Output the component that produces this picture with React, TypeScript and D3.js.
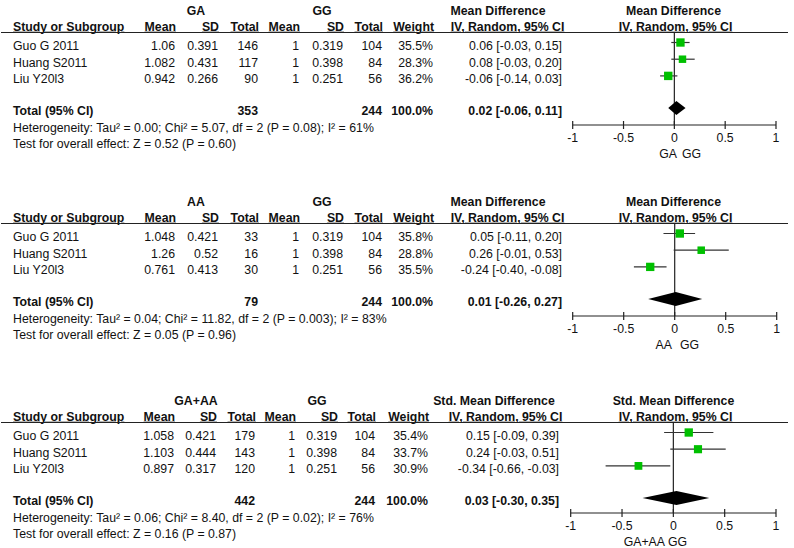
import React from "react";
import * as d3 from "d3";

// ---------- data ----------
const studies = ["Guo G 2011", "Huang S2011", "Liu Y20l3"];
const expLabels = ["GA", "AA", "GA+AA"];
const ctrlLabel = "GG";
const effectLabels = ["Mean Difference", "Mean Difference", "Std. Mean Difference"];
const methodLabel = "IV, Random, 95% CI";

const expMean = [[1.06, 1.082, 0.942], [1.048, 1.26, 0.761], [1.058, 1.103, 0.897]];
const expSD = [[0.391, 0.431, 0.266], [0.421, 0.52, 0.413], [0.421, 0.444, 0.317]];
const expN = [[146, 117, 90], [33, 16, 30], [179, 143, 120]];
const ctrlMean = [1, 1, 1];
const ctrlSD = [0.319, 0.398, 0.251];
const ctrlN = [104, 84, 56];

const weights = [[35.5, 28.3, 36.2], [35.8, 28.8, 35.5], [35.4, 33.7, 30.9]];
const estimates = [[0.06, 0.08, -0.06], [0.05, 0.26, -0.24], [0.15, 0.24, -0.34]];
const lowers = [[-0.03, -0.03, -0.14], [-0.11, -0.01, -0.4], [-0.09, -0.03, -0.66]];
const uppers = [[0.15, 0.2, 0.03], [0.2, 0.53, -0.08], [0.39, 0.51, -0.03]];

const totalExpN = [353, 79, 442];
const totalCtrlN = 244;
const totalEst = [0.02, 0.01, 0.03];
const totalLo = [-0.06, -0.26, -0.3];
const totalHi = [0.11, 0.27, 0.35];

const heterogeneity = [
  "Heterogeneity: Tau² = 0.00; Chi² = 5.07, df = 2 (P = 0.08); I² = 61%",
  "Heterogeneity: Tau² = 0.04; Chi² = 11.82, df = 2 (P = 0.003); I² = 83%",
  "Heterogeneity: Tau² = 0.06; Chi² = 8.40, df = 2 (P = 0.02); I² = 76%",
];
const overallTest = [
  "Test for overall effect: Z = 0.52 (P = 0.60)",
  "Test for overall effect: Z = 0.05 (P = 0.96)",
  "Test for overall effect: Z = 0.16 (P = 0.87)",
];
const axisDomain = [-1, 1];

// ---------- layout ----------
const W = 794;
const H = 548;
const FONT = "Arial, 'Liberation Sans', Helvetica, sans-serif";
const FS = 12.3;
const panelTop = [0, 191, 390];
const axisRel = [125, 125, 123];
const plotRange = [[572.7, 776], [572.7, 776.7], [570.7, 776]];
const cols = [
  { mean: 175, sd: 218, total: 258, gmean: 299, gsd: 343, gtotal: 382, weight: 433, ci: 562, gA: 196, gB: 322, eff1: 498, eff2: 507.5 },
  { mean: 175, sd: 218, total: 258, gmean: 299, gsd: 343, gtotal: 382, weight: 433, ci: 562, gA: 196, gB: 322, eff1: 498, eff2: 507.5 },
  { mean: 174, sd: 216, total: 255, gmean: 295, gsd: 337, gtotal: 375, weight: 428, ci: 559, gA: 196, gB: 317, eff1: 494, eff2: 505.5 },
];
const subLabelPos = [[677, 682], [672, 680], [665, 668]];
const sizeScale = d3.scaleSqrt().domain([0, 36]).range([0, 8.4]);
const fmt2 = d3.formatLocale({ decimal: ".", thousands: ",", grouping: [3], currency: ["", ""], minus: "-" }).format(".2f");
const ciText = (e: number, l: number, h: number) => `${fmt2(e)} [${fmt2(l)}, ${fmt2(h)}]`;

function T(props: any) {
  const { x, y, anchor = "start", bold = false, underline = false, children, size = FS } = props;
  return (
    <text
      x={x}
      y={y}
      textAnchor={anchor}
      fontFamily={FONT}
      fontSize={size}
      fontWeight={bold ? "bold" : "normal"}
      textDecoration={underline ? "underline" : undefined}
      fill="#111"
    >
      {children}
    </text>
  );
}

function Panel({ p }: { p: number }) {
  const top = panelTop[p];
  const c = cols[p];
  const x = d3.scaleLinear().domain(axisDomain).range(plotRange[p]);
  const rowY = (i: number) => top + 50 + i * 16.7;
  const totalY = top + 115;
  const axisY = top + axisRel[p];
  const lineY = top + 32.5;
  const ticks = x.ticks(4);
  const dy = 7.5;
  const diamondY = totalY - 7;
  const diamond = d3.line()([
    [x(totalLo[p]), diamondY],
    [x(totalEst[p]), diamondY - 7],
    [x(totalHi[p]), diamondY],
    [x(totalEst[p]), diamondY + 7],
  ]) + "Z";

  return (
    <g>
      {/* group headers */}
      <T x={c.gA} y={top + 15} anchor="middle" bold>{expLabels[p]}</T>
      <T x={c.gB} y={top + 15} anchor="middle" bold>{ctrlLabel}</T>
      <T x={c.eff1} y={top + 15} anchor="middle" bold>{effectLabels[p]}</T>
      <T x={673.5} y={top + 15} anchor="middle" bold>{effectLabels[p]}</T>
      {/* column headers */}
      <T x={13} y={top + 30.7} bold underline>Study or Subgroup</T>
      <T x={c.mean + 1} y={top + 30.7} anchor="end" bold underline>Mean</T>
      <T x={c.sd + 1} y={top + 30.7} anchor="end" bold underline>SD</T>
      <T x={c.total + 1} y={top + 30.7} anchor="end" bold underline>Total</T>
      <T x={c.gmean + 1} y={top + 30.7} anchor="end" bold underline>Mean</T>
      <T x={c.gsd + 1} y={top + 30.7} anchor="end" bold underline>SD</T>
      <T x={c.gtotal + 1} y={top + 30.7} anchor="end" bold underline>Total</T>
      <T x={c.weight + 1} y={top + 30.7} anchor="end" bold underline>Weight</T>
      <T x={c.eff2} y={top + 30.7} anchor="middle" bold underline>{methodLabel}</T>
      <T x={675.5} y={top + 30.7} anchor="middle" bold underline>{methodLabel}</T>
      <line x1={1} x2={788} y1={lineY} y2={lineY} stroke="#222" strokeWidth={1.2} />

      {/* study rows */}
      {studies.map((s, i) => (
        <g key={s}>
          <T x={13} y={rowY(i)}>{s}</T>
          <T x={c.mean} y={rowY(i)} anchor="end">{String(expMean[p][i])}</T>
          <T x={c.sd} y={rowY(i)} anchor="end">{String(expSD[p][i])}</T>
          <T x={c.total} y={rowY(i)} anchor="end">{String(expN[p][i])}</T>
          <T x={c.gmean} y={rowY(i)} anchor="end">{String(ctrlMean[i])}</T>
          <T x={c.gsd} y={rowY(i)} anchor="end">{String(ctrlSD[i])}</T>
          <T x={c.gtotal} y={rowY(i)} anchor="end">{String(ctrlN[i])}</T>
          <T x={c.weight} y={rowY(i)} anchor="end">{weights[p][i].toFixed(1) + "%"}</T>
          <T x={c.ci} y={rowY(i)} anchor="end">{ciText(estimates[p][i], lowers[p][i], uppers[p][i])}</T>
        </g>
      ))}

      {/* total row */}
      <T x={13} y={totalY} bold>Total (95% CI)</T>
      <T x={c.total} y={totalY} anchor="end" bold>{String(totalExpN[p])}</T>
      <T x={c.gtotal} y={totalY} anchor="end" bold>{String(totalCtrlN)}</T>
      <T x={c.weight} y={totalY} anchor="end" bold>100.0%</T>
      <T x={c.ci} y={totalY} anchor="end" bold>{ciText(totalEst[p], totalLo[p], totalHi[p])}</T>
      <T x={13} y={top + 131.7}>{heterogeneity[p]}</T>
      <T x={13} y={top + 148.3}>{overallTest[p]}</T>

      {/* plot */}
      <line x1={x(0)} x2={x(0)} y1={lineY} y2={axisY} stroke="#222" strokeWidth={1.2} />
      {studies.map((s, i) => {
        const cy = rowY(i) - dy;
        const sz = sizeScale(weights[p][i]);
        return (
          <g key={"m" + s}>
            <line x1={x(lowers[p][i])} x2={x(uppers[p][i])} y1={cy} y2={cy} stroke="#333" strokeWidth={1.2} />
            <rect x={x(estimates[p][i]) - sz / 2} y={cy - sz / 2} width={sz} height={sz} fill="#00c000" />
          </g>
        );
      })}
      <path d={diamond} fill="#000" />

      {/* axis */}
      <line x1={x(axisDomain[0])} x2={x(axisDomain[1])} y1={axisY} y2={axisY} stroke="#222" strokeWidth={1.2} />
      {ticks.map((t) => (
        <g key={t}>
          <line x1={x(t)} x2={x(t)} y1={axisY - 4} y2={axisY + 4} stroke="#222" strokeWidth={1.2} />
          <T x={x(t)} y={axisY + 17} anchor="middle">{String(t)}</T>
        </g>
      ))}
      <T x={subLabelPos[p][0]} y={axisY + 33} anchor="end">{expLabels[p]}</T>
      <T x={subLabelPos[p][1]} y={axisY + 33}>{ctrlLabel}</T>
    </g>
  );
}

export default function App() {
  return (
    <svg
      width={W}
      height={H}
      viewBox={`0 0 ${W} ${H}`}
      style={{ position: "absolute", left: 0, top: 0, background: "#fff" }}
    >
      <rect width={W} height={H} fill="#fff" />
      {[0, 1, 2].map((p) => (
        <Panel key={p} p={p} />
      ))}
    </svg>
  );
}
